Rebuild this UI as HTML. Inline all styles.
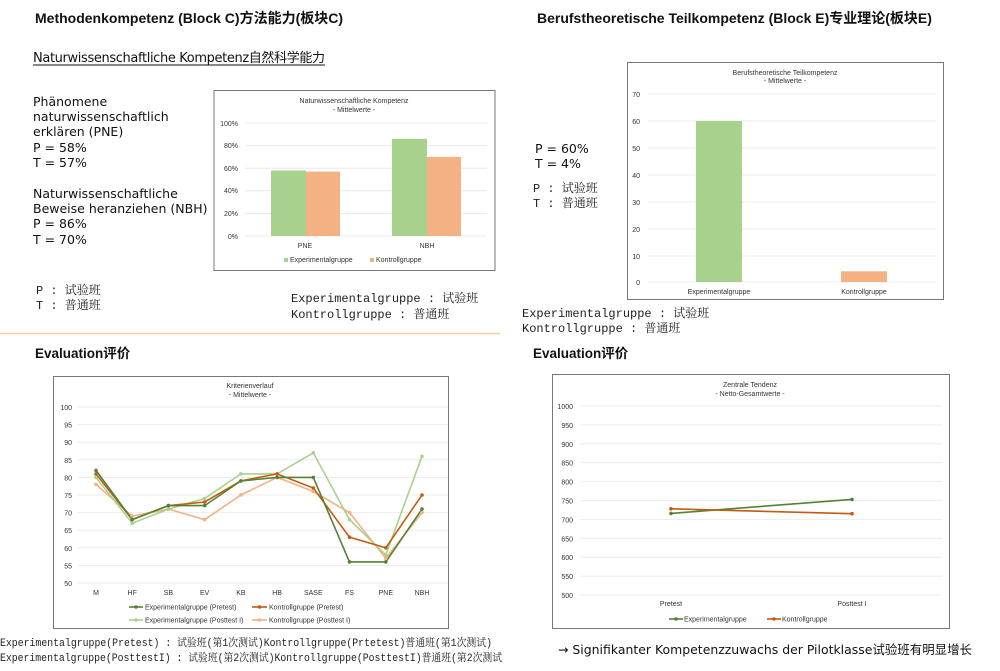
<!DOCTYPE html>
<html><head><meta charset="utf-8"><style>
html,body{margin:0;padding:0;background:#fff;}
svg{display:block}
.b{font-family:"Liberation Sans","Noto Sans CJK SC",sans-serif;font-weight:bold;}
.d{font-family:"DejaVu Sans","Noto Sans CJK SC",sans-serif;}
.m{font-family:"Liberation Mono","Noto Serif CJK SC",monospace;}
.c{font-family:"Liberation Sans",sans-serif;fill:#333;}
</style></head><body>
<svg width="1000" height="671" viewBox="0 0 1000 671" xmlns="http://www.w3.org/2000/svg">
<!-- Top-left -->
<text x="35" y="23" class="b" font-size="14" fill="#111">Methodenkompetenz (Block C)方法能力(板块C)</text>
<text x="33" y="62" class="d" font-size="13" fill="#111" textLength="292">Naturwissenschaftliche Kompetenz自然科学能力</text>
<line x1="33" y1="65" x2="325" y2="65" stroke="#111" stroke-width="1"/>
<g class="d" font-size="12.5" fill="#111">
<text x="33" y="106">Phänomene</text>
<text x="33" y="121">naturwissenschaftlich</text>
<text x="33" y="136">erklären (PNE)</text>
<text x="33" y="152">P = 58%</text>
<text x="33" y="167">T = 57%</text>
<text x="33" y="198">Naturwissenschaftliche</text>
<text x="33" y="213">Beweise heranziehen (NBH)</text>
<text x="33" y="228">P = 86%</text>
<text x="33" y="244">T = 70%</text>
</g>
<g class="m" font-size="12" fill="#222">
<text x="36" y="294">P : 试验班</text>
<text x="36" y="309">T : 普通班</text>
<text x="291" y="302">Experimentalgruppe : 试验班</text>
<text x="291" y="318">Kontrollgruppe : 普通班</text>
</g>
<!-- Chart 1 -->
<rect x="214" y="90.5" width="281" height="180" fill="#fff" stroke="#777" stroke-width="1"/>
<text x="354" y="103" class="c" font-size="7" text-anchor="middle">Naturwissenschaftliche Kompetenz</text>
<text x="354" y="112" class="c" font-size="7" text-anchor="middle">- Mittelwerte -</text>
<g stroke="#e4e4e4" stroke-width="0.8">
<line x1="245" y1="123" x2="487" y2="123"/><line x1="245" y1="145.6" x2="487" y2="145.6"/>
<line x1="245" y1="168.2" x2="487" y2="168.2"/><line x1="245" y1="190.8" x2="487" y2="190.8"/>
<line x1="245" y1="213.4" x2="487" y2="213.4"/><line x1="245" y1="236" x2="487" y2="236"/>
</g>
<g class="c" font-size="7" text-anchor="end">
<text x="238" y="126">100%</text><text x="238" y="148">80%</text><text x="238" y="171">60%</text>
<text x="238" y="193">40%</text><text x="238" y="216">20%</text><text x="238" y="239">0%</text>
</g>
<rect x="271" y="170.5" width="35" height="65.5" fill="#a9d18e"/>
<rect x="306" y="171.6" width="34" height="64.4" fill="#f4b183"/>
<rect x="392" y="138.8" width="35" height="97.2" fill="#a9d18e"/>
<rect x="427" y="156.9" width="34" height="79.1" fill="#f4b183"/>
<g class="c" font-size="7" text-anchor="middle"><text x="305" y="248">PNE</text><text x="427" y="248">NBH</text></g>
<rect x="284" y="258" width="4" height="4" fill="#a9d18e"/><text x="290" y="262" class="c" font-size="7">Experimentalgruppe</text>
<rect x="370" y="258" width="4" height="4" fill="#f4b183"/><text x="376" y="262" class="c" font-size="7">Kontrollgruppe</text>
<line x1="0" y1="333.5" x2="500" y2="333.5" stroke="#f2cf9e" stroke-width="1.5"/>

<!-- Top-right -->
<text x="537" y="23" class="b" font-size="14" fill="#111">Berufstheoretische Teilkompetenz (Block E)专业理论(板块E)</text>
<g class="d" font-size="12.5" fill="#111"><text x="535" y="153">P = 60%</text><text x="535" y="168">T = 4%</text></g>
<g class="m" font-size="12" fill="#222">
<text x="533" y="192">P : 试验班</text><text x="533" y="207">T : 普通班</text>
<text x="522" y="317">Experimentalgruppe : 试验班</text><text x="522" y="332">Kontrollgruppe : 普通班</text>
</g>
<rect x="627.5" y="62.5" width="316" height="237" fill="#fff" stroke="#777" stroke-width="1"/>
<text x="785" y="75" class="c" font-size="7" text-anchor="middle">Berufstheoretische Teilkompetenz</text>
<text x="785" y="83" class="c" font-size="7" text-anchor="middle">- Mittelwerte -</text>
<g stroke="#e4e4e4" stroke-width="0.8">
<line x1="648" y1="94" x2="936" y2="94"/><line x1="648" y1="121" x2="936" y2="121"/><line x1="648" y1="148" x2="936" y2="148"/>
<line x1="648" y1="175" x2="936" y2="175"/><line x1="648" y1="202" x2="936" y2="202"/><line x1="648" y1="229" x2="936" y2="229"/>
<line x1="648" y1="256" x2="936" y2="256"/><line x1="648" y1="282" x2="936" y2="282"/>
</g>
<g class="c" font-size="7" text-anchor="end">
<text x="640" y="97">70</text><text x="640" y="124">60</text><text x="640" y="151">50</text><text x="640" y="178">40</text>
<text x="640" y="205">30</text><text x="640" y="232">20</text><text x="640" y="259">10</text><text x="640" y="285">0</text>
</g>
<rect x="696" y="121" width="46" height="161" fill="#a9d18e"/>
<rect x="841" y="271.3" width="46" height="10.7" fill="#f4b183"/>
<g class="c" font-size="7" text-anchor="middle"><text x="719" y="294">Experimentalgruppe</text><text x="864" y="294">Kontrollgruppe</text></g>

<!-- Bottom-left -->
<text x="35" y="358" class="b" font-size="13.5" fill="#111">Evaluation评价</text>
<rect x="53.5" y="376.5" width="395" height="252" fill="#fff" stroke="#777" stroke-width="1"/>
<text x="250" y="388" class="c" font-size="7" text-anchor="middle">Kriterienverlauf</text>
<text x="250" y="397" class="c" font-size="7" text-anchor="middle">- Mittelwerte -</text>
<g stroke="#e8e8e8" stroke-width="0.8">
<line x1="78" y1="407" x2="448" y2="407"/><line x1="78" y1="424.6" x2="448" y2="424.6"/><line x1="78" y1="442.2" x2="448" y2="442.2"/>
<line x1="78" y1="459.8" x2="448" y2="459.8"/><line x1="78" y1="477.4" x2="448" y2="477.4"/><line x1="78" y1="495" x2="448" y2="495"/>
<line x1="78" y1="512.6" x2="448" y2="512.6"/><line x1="78" y1="530.2" x2="448" y2="530.2"/><line x1="78" y1="547.8" x2="448" y2="547.8"/>
<line x1="78" y1="565.4" x2="448" y2="565.4"/><line x1="78" y1="583" x2="448" y2="583"/>
</g>
<g class="c" font-size="7" text-anchor="end">
<text x="72" y="410">100</text><text x="72" y="427.6">95</text><text x="72" y="445.2">90</text><text x="72" y="462.8">85</text>
<text x="72" y="480.4">80</text><text x="72" y="498">75</text><text x="72" y="515.6">70</text><text x="72" y="533.2">65</text>
<text x="72" y="550.8">60</text><text x="72" y="568.4">55</text><text x="72" y="586">50</text>
</g>
<g class="c" font-size="7" text-anchor="middle">
<text x="96" y="595">M</text><text x="132.2" y="595">HF</text><text x="168.4" y="595">SB</text><text x="204.7" y="595">EV</text>
<text x="240.9" y="595">KB</text><text x="277.1" y="595">HB</text><text x="313.3" y="595">SASE</text><text x="349.5" y="595">FS</text>
<text x="385.8" y="595">PNE</text><text x="422" y="595">NBH</text>
</g>
<g fill="none" stroke-width="1.6">
<polyline stroke="#f4b183" points="96,484.4 132.2,516.1 168.4,509.1 204.7,519.6 240.9,495 277.1,477.4 313.3,491.5 349.5,512.6 385.8,558.4 422,512.6"/>
<polyline stroke="#a9d18e" points="96,477.4 132.2,523.2 168.4,509.1 204.7,498.5 240.9,473.9 277.1,473.9 313.3,452.8 349.5,519.6 385.8,554.8 422,456.3"/>
<polyline stroke="#c55a11" points="96,473.9 132.2,519.6 168.4,505.6 204.7,502 240.9,480.9 277.1,473.9 313.3,488 349.5,537.2 385.8,547.8 422,495"/>
<polyline stroke="#548235" points="96,470.4 132.2,519.6 168.4,505.6 204.7,505.6 240.9,480.9 277.1,477.4 313.3,477.4 349.5,561.9 385.8,561.9 422,509.1"/>
</g>
<g fill="#f4b183"><circle cx="96" cy="484.4" r="1.8"/><circle cx="132.2" cy="516.1" r="1.8"/><circle cx="168.4" cy="509.1" r="1.8"/><circle cx="204.7" cy="519.6" r="1.8"/><circle cx="240.9" cy="495" r="1.8"/><circle cx="277.1" cy="477.4" r="1.8"/><circle cx="313.3" cy="491.5" r="1.8"/><circle cx="349.5" cy="512.6" r="1.8"/><circle cx="385.8" cy="558.4" r="1.8"/><circle cx="422" cy="512.6" r="1.8"/></g>
<g fill="#a9d18e"><circle cx="96" cy="477.4" r="1.8"/><circle cx="132.2" cy="523.2" r="1.8"/><circle cx="168.4" cy="509.1" r="1.8"/><circle cx="204.7" cy="498.5" r="1.8"/><circle cx="240.9" cy="473.9" r="1.8"/><circle cx="277.1" cy="473.9" r="1.8"/><circle cx="313.3" cy="452.8" r="1.8"/><circle cx="349.5" cy="519.6" r="1.8"/><circle cx="385.8" cy="554.8" r="1.8"/><circle cx="422" cy="456.3" r="1.8"/></g>
<g fill="#c55a11"><circle cx="96" cy="473.9" r="1.8"/><circle cx="132.2" cy="519.6" r="1.8"/><circle cx="168.4" cy="505.6" r="1.8"/><circle cx="204.7" cy="502" r="1.8"/><circle cx="240.9" cy="480.9" r="1.8"/><circle cx="277.1" cy="473.9" r="1.8"/><circle cx="313.3" cy="488" r="1.8"/><circle cx="349.5" cy="537.2" r="1.8"/><circle cx="385.8" cy="547.8" r="1.8"/><circle cx="422" cy="495" r="1.8"/></g>
<g fill="#548235"><circle cx="96" cy="470.4" r="1.8"/><circle cx="132.2" cy="519.6" r="1.8"/><circle cx="168.4" cy="505.6" r="1.8"/><circle cx="204.7" cy="505.6" r="1.8"/><circle cx="240.9" cy="480.9" r="1.8"/><circle cx="277.1" cy="477.4" r="1.8"/><circle cx="313.3" cy="477.4" r="1.8"/><circle cx="349.5" cy="561.9" r="1.8"/><circle cx="385.8" cy="561.9" r="1.8"/><circle cx="422" cy="509.1" r="1.8"/></g>
<line x1="129" y1="607" x2="143" y2="607" stroke="#548235" stroke-width="1.6"/><circle cx="136" cy="607" r="1.8" fill="#548235"/>
<text x="145" y="609.5" class="c" font-size="7">Experimentalgruppe (Pretest)</text>
<line x1="252" y1="607" x2="267" y2="607" stroke="#c55a11" stroke-width="1.6"/><circle cx="259.5" cy="607" r="1.8" fill="#c55a11"/>
<text x="269" y="609.5" class="c" font-size="7">Kontrollgruppe (Pretest)</text>
<line x1="129" y1="620" x2="143" y2="620" stroke="#a9d18e" stroke-width="1.6"/><circle cx="136" cy="620" r="1.8" fill="#a9d18e"/>
<text x="145" y="622.5" class="c" font-size="7">Experimentalgruppe (Posttest I)</text>
<line x1="252" y1="620" x2="267" y2="620" stroke="#f4b183" stroke-width="1.6"/><circle cx="259.5" cy="620" r="1.8" fill="#f4b183"/>
<text x="269" y="622.5" class="c" font-size="7">Kontrollgruppe (Posttest I)</text>
<g class="m" font-size="11" fill="#222">
<text x="0" y="646" textLength="492" lengthAdjust="spacingAndGlyphs">Experimentalgruppe(Pretest) : 试验班(第1次测试)Kontrollgruppe(Prtetest)普通班(第1次测试)</text>
<text x="0" y="661" textLength="502" lengthAdjust="spacingAndGlyphs">Experimentalgruppe(PosttestI) : 试验班(第2次测试)Kontrollgruppe(PosttestI)普通班(第2次测试</text>
</g>

<!-- Bottom-right -->
<text x="533" y="358" class="b" font-size="13.5" fill="#111">Evaluation评价</text>
<rect x="552.5" y="374.5" width="397" height="254" fill="#fff" stroke="#777" stroke-width="1"/>
<text x="750" y="387" class="c" font-size="7" text-anchor="middle">Zentrale Tendenz</text>
<text x="750" y="396" class="c" font-size="7" text-anchor="middle">- Netto-Gesamtwerte -</text>
<g stroke="#e8e8e8" stroke-width="0.8">
<line x1="580" y1="406" x2="942" y2="406"/><line x1="580" y1="424.9" x2="942" y2="424.9"/><line x1="580" y1="443.8" x2="942" y2="443.8"/>
<line x1="580" y1="462.7" x2="942" y2="462.7"/><line x1="580" y1="481.6" x2="942" y2="481.6"/><line x1="580" y1="500.5" x2="942" y2="500.5"/>
<line x1="580" y1="519.4" x2="942" y2="519.4"/><line x1="580" y1="538.3" x2="942" y2="538.3"/><line x1="580" y1="557.2" x2="942" y2="557.2"/>
<line x1="580" y1="576.1" x2="942" y2="576.1"/><line x1="580" y1="595" x2="942" y2="595"/>
</g>
<g class="c" font-size="7" text-anchor="end">
<text x="573" y="409">1000</text><text x="573" y="427.9">950</text><text x="573" y="446.8">900</text><text x="573" y="465.7">850</text>
<text x="573" y="484.6">800</text><text x="573" y="503.5">750</text><text x="573" y="522.4">700</text><text x="573" y="541.3">650</text>
<text x="573" y="560.2">600</text><text x="573" y="579.1">550</text><text x="573" y="598">500</text>
</g>
<g class="c" font-size="7" text-anchor="middle"><text x="671" y="606">Pretest</text><text x="852" y="606">Posttest I</text></g>
<polyline fill="none" stroke="#548235" stroke-width="1.6" points="671,513.4 852,499.4"/>
<polyline fill="none" stroke="#c55a11" stroke-width="1.6" points="671,508.8 852,513.7"/>
<circle cx="671" cy="513.4" r="1.8" fill="#548235"/><circle cx="852" cy="499.4" r="1.8" fill="#548235"/>
<circle cx="671" cy="508.8" r="1.8" fill="#c55a11"/><circle cx="852" cy="513.7" r="1.8" fill="#c55a11"/>
<line x1="669" y1="619" x2="683" y2="619" stroke="#548235" stroke-width="1.6"/><circle cx="676" cy="619" r="1.8" fill="#548235"/>
<text x="684" y="621.5" class="c" font-size="7">Experimentalgruppe</text>
<line x1="767" y1="619" x2="781" y2="619" stroke="#c55a11" stroke-width="1.6"/><circle cx="774" cy="619" r="1.8" fill="#c55a11"/>
<text x="782" y="621.5" class="c" font-size="7">Kontrollgruppe</text>
<text x="558" y="654" class="d" font-size="12.5" fill="#111" textLength="414" lengthAdjust="spacingAndGlyphs">→ Signifikanter Kompetenzzuwachs der Pilotklasse试验班有明显增长</text>
</svg>
</body></html>
